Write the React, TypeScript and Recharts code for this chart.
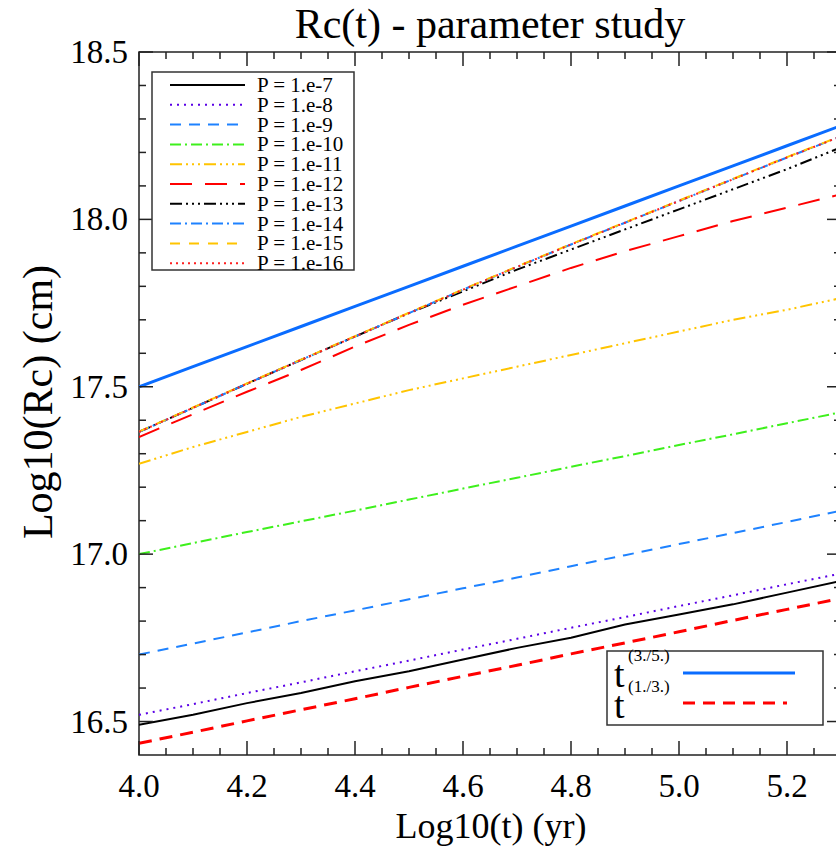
import React from 'react';
import { LineChart, Line, XAxis, YAxis, ReferenceArea, Legend } from 'recharts';

// ---- data ----
const times = [4.0, 4.1, 4.2, 4.3, 4.4, 4.5, 4.6, 4.7, 4.8, 4.9, 5.0, 5.1, 5.2, 5.3];

const p7 = [16.49, 16.52, 16.555, 16.585, 16.62, 16.65, 16.685, 16.72, 16.75, 16.79, 16.82, 16.85, 16.885, 16.92];
const p8 = [16.52, 16.552, 16.585, 16.617, 16.65, 16.682, 16.715, 16.747, 16.78, 16.812, 16.845, 16.877, 16.91, 16.942];
const p9 = [16.7, 16.733, 16.766, 16.8, 16.832, 16.865, 16.898, 16.93, 16.964, 16.997, 17.03, 17.063, 17.096, 17.13];
const p10 = [17.0, 17.033, 17.066, 17.098, 17.13, 17.163, 17.196, 17.228, 17.261, 17.293, 17.326, 17.358, 17.391, 17.424];
const p11 = [17.27, 17.32, 17.365, 17.41, 17.45, 17.49, 17.525, 17.56, 17.595, 17.63, 17.665, 17.7, 17.73, 17.765];
const p12 = [17.35, 17.418, 17.485, 17.55, 17.62, 17.685, 17.745, 17.8, 17.855, 17.905, 17.95, 17.995, 18.035, 18.075];
const p13 = [17.365, 17.437, 17.509, 17.58, 17.65, 17.72, 17.785, 17.85, 17.91, 17.97, 18.03, 18.09, 18.15, 18.215];
const p14 = [17.365, 17.437, 17.509, 17.58, 17.65, 17.72, 17.79, 17.858, 17.925, 17.99, 18.055, 18.12, 18.185, 18.248];
const p15 = [17.366, 17.438, 17.51, 17.581, 17.651, 17.721, 17.791, 17.859, 17.926, 17.991, 18.056, 18.121, 18.186, 18.249];
const p16 = [17.365, 17.437, 17.509, 17.58, 17.65, 17.72, 17.79, 17.858, 17.925, 17.99, 18.055, 18.12, 18.185, 18.248];
const fit35 = [17.5, 17.56, 17.62, 17.68, 17.74, 17.8, 17.86, 17.92, 17.98, 18.04, 18.1, 18.16, 18.22, 18.28];
const fit13 = [16.435, 16.468, 16.502, 16.535, 16.568, 16.602, 16.635, 16.668, 16.702, 16.735, 16.768, 16.802, 16.835, 16.868];

const xTicks = [4.0, 4.05, 4.1, 4.15, 4.2, 4.25, 4.3, 4.35, 4.4, 4.45, 4.5, 4.55, 4.6, 4.65, 4.7, 4.75, 4.8, 4.85, 4.9, 4.95, 5.0, 5.05, 5.1, 5.15, 5.2, 5.25, 5.3];
const yTicks = [16.5, 16.6, 16.7, 16.8, 16.9, 17.0, 17.1, 17.2, 17.3, 17.4, 17.5, 17.6, 17.7, 17.8, 17.9, 18.0, 18.1, 18.2, 18.3, 18.4, 18.5];

const seriesNames = ['P = 1.e-7', 'P = 1.e-8', 'P = 1.e-9', 'P = 1.e-10', 'P = 1.e-11', 'P = 1.e-12', 'P = 1.e-13', 'P = 1.e-14', 'P = 1.e-15', 'P = 1.e-16'];
const seriesKeys = ['p7', 'p8', 'p9', 'p10', 'p11', 'p12', 'p13', 'p14', 'p15', 'p16'];
const seriesValues = [p7, p8, p9, p10, p11, p12, p13, p14, p15, p16];
const seriesColors = ['#000000', '#5a00e6', '#1e82ff', '#3ef01c', '#ffc400', '#ff0000', '#000000', '#1e82ff', '#ffc400', '#ff2020'];
const seriesDash = ['', '2 5', '11 8', '11 4 2 4', '12 4 2 4 2 4 2 4', '22 13', '12 4 2 4 2 4 2 4', '11 4 2 4', '10 9', '2 4'];

const data = times.map((t, i) => {
  const row: any = { t, fit35: fit35[i], fit13: fit13[i] };
  seriesKeys.forEach((k, j) => { row[k] = seriesValues[j][i]; });
  return row;
});

// ---- layout ----
const W = 860;
const H = 848;
const PLOT_LEFT = 139;
const PLOT_TOP = 52;
const PLOT_RIGHT = 841;
const AXIS_COLOR = '#222';
const FONT = 'Liberation Serif, serif';

const XTick = (props: any) => {
  const { x, y, payload } = props;
  const v = payload.value as number;
  const major = Math.abs(v * 5 - Math.round(v * 5)) < 1e-6;
  const len = major ? 14 : 7;
  return (
    <g>
      <line x1={x} x2={x} y1={y} y2={y - len} stroke={AXIS_COLOR} strokeWidth={1.5} />
      <line x1={x} x2={x} y1={PLOT_TOP} y2={PLOT_TOP + len} stroke={AXIS_COLOR} strokeWidth={1.5} />
      {major && (
        <text x={x} y={y + 42} textAnchor="middle" fontFamily={FONT} fontSize={33} fill="#000">
          {v.toFixed(1)}
        </text>
      )}
    </g>
  );
};

const YTick = (props: any) => {
  const { x, y, payload } = props;
  const v = payload.value as number;
  const major = Math.abs(v * 2 - Math.round(v * 2)) < 1e-6;
  const len = major ? 14 : 7;
  return (
    <g>
      <line x1={x} x2={x + len} y1={y} y2={y} stroke={AXIS_COLOR} strokeWidth={1.5} />
      <line x1={PLOT_RIGHT} x2={PLOT_RIGHT - len} y1={y} y2={y} stroke={AXIS_COLOR} strokeWidth={1.5} />
      {major && (
        <text x={x - 11} y={y + 11} textAnchor="end" fontFamily={FONT} fontSize={33} fill="#000">
          {v.toFixed(1)}
        </text>
      )}
    </g>
  );
};

const Overlay = () => {
  const rowY = (i: number) => 85 + i * 19.8;
  return (
    <svg width={W} height={H} style={{ position: 'absolute', left: 0, top: 0, pointerEvents: 'none' }}>
      <text x={490} y={38} textAnchor="middle" fontFamily={FONT} fontSize={42} fill="#000">Rc(t) - parameter study</text>
      <text x={491} y={838} textAnchor="middle" fontFamily={FONT} fontSize={36} fill="#000">Log10(t) (yr)</text>
      <text x={0} y={0} transform="translate(52,402) rotate(-90)" textAnchor="middle" fontFamily={FONT} fontSize={42} fill="#000">Log10(Rc) (cm)</text>

      <rect x={152} y={72} width={202} height={198} fill="#fff" stroke="#333" strokeWidth={1.5} />
      {seriesNames.map((n, i) => (
        <g key={n}>
          <line x1={170} x2={245} y1={rowY(i)} y2={rowY(i)} stroke={seriesColors[i]} strokeWidth={2} strokeDasharray={seriesDash[i] || undefined} />
          <text x={257} y={rowY(i) + 7} fontFamily={FONT} fontSize={21} fill="#000">{n}</text>
        </g>
      ))}

      <rect x={607} y={651} width={216} height={74} fill="#fff" stroke="#333" strokeWidth={1.5} />
      <text x={614} y={687} fontFamily={FONT} fontSize={38} fill="#000">t</text>
      <text x={628} y={661} fontFamily={FONT} fontSize={17} fill="#000">(3./5.)</text>
      <line x1={683} x2={795} y1={673} y2={673} stroke="#0a6cff" strokeWidth={3} />
      <text x={614} y={718} fontFamily={FONT} fontSize={38} fill="#000">t</text>
      <text x={628} y={692} fontFamily={FONT} fontSize={17} fill="#000">(1./3.)</text>
      <line x1={683} x2={787} y1={703} y2={703} stroke="#ff0000" strokeWidth={3} strokeDasharray="12 8" />
    </svg>
  );
};

export default function App() {
  return (
    <div style={{ position: 'fixed', left: 0, top: 0, width: 836, height: 848, overflow: 'hidden', background: '#fff' }}>
      <LineChart width={W} height={H} data={data} margin={{ top: PLOT_TOP, right: W - PLOT_RIGHT, left: 0, bottom: 33 }}>
        <XAxis
          dataKey="t"
          type="number"
          domain={[4.0, 5.3]}
          ticks={xTicks}
          interval={0}
          allowDataOverflow
          axisLine={false}
          tickLine={false}
          tickSize={0}
          tickMargin={0}
          height={60}
          tick={(p: any) => <XTick {...p} />}
        />
        <YAxis
          type="number"
          domain={[16.4, 18.5]}
          ticks={yTicks}
          interval={0}
          allowDataOverflow
          axisLine={false}
          tickLine={false}
          tickSize={0}
          tickMargin={0}
          width={PLOT_LEFT}
          tick={(p: any) => <YTick {...p} />}
        />
        <ReferenceArea x1={4.0} x2={5.3} y1={16.4} y2={18.5} fill="none" stroke={AXIS_COLOR} strokeWidth={1.5} ifOverflow="visible" />
        {seriesKeys.map((k, i) => (
          <Line
            key={k}
            dataKey={k}
            name={seriesNames[i]}
            type="linear"
            stroke={seriesColors[i]}
            strokeWidth={2}
            strokeDasharray={seriesDash[i] || undefined}
            dot={false}
            activeDot={false}
            isAnimationActive={false}
          />
        ))}
        <Line dataKey="fit35" name="t^(3/5)" type="linear" stroke="#0a6cff" strokeWidth={3} dot={false} activeDot={false} isAnimationActive={false} />
        <Line dataKey="fit13" name="t^(1/3)" type="linear" stroke="#ff0000" strokeWidth={3} strokeDasharray="13 8" dot={false} activeDot={false} isAnimationActive={false} />
        <Legend
          layout="horizontal"
          verticalAlign="middle"
          align="center"
          wrapperStyle={{ position: 'absolute', left: 0, top: 0, width: W, height: H, pointerEvents: 'none' }}
          content={() => <Overlay />}
        />
      </LineChart>
    </div>
  );
}
